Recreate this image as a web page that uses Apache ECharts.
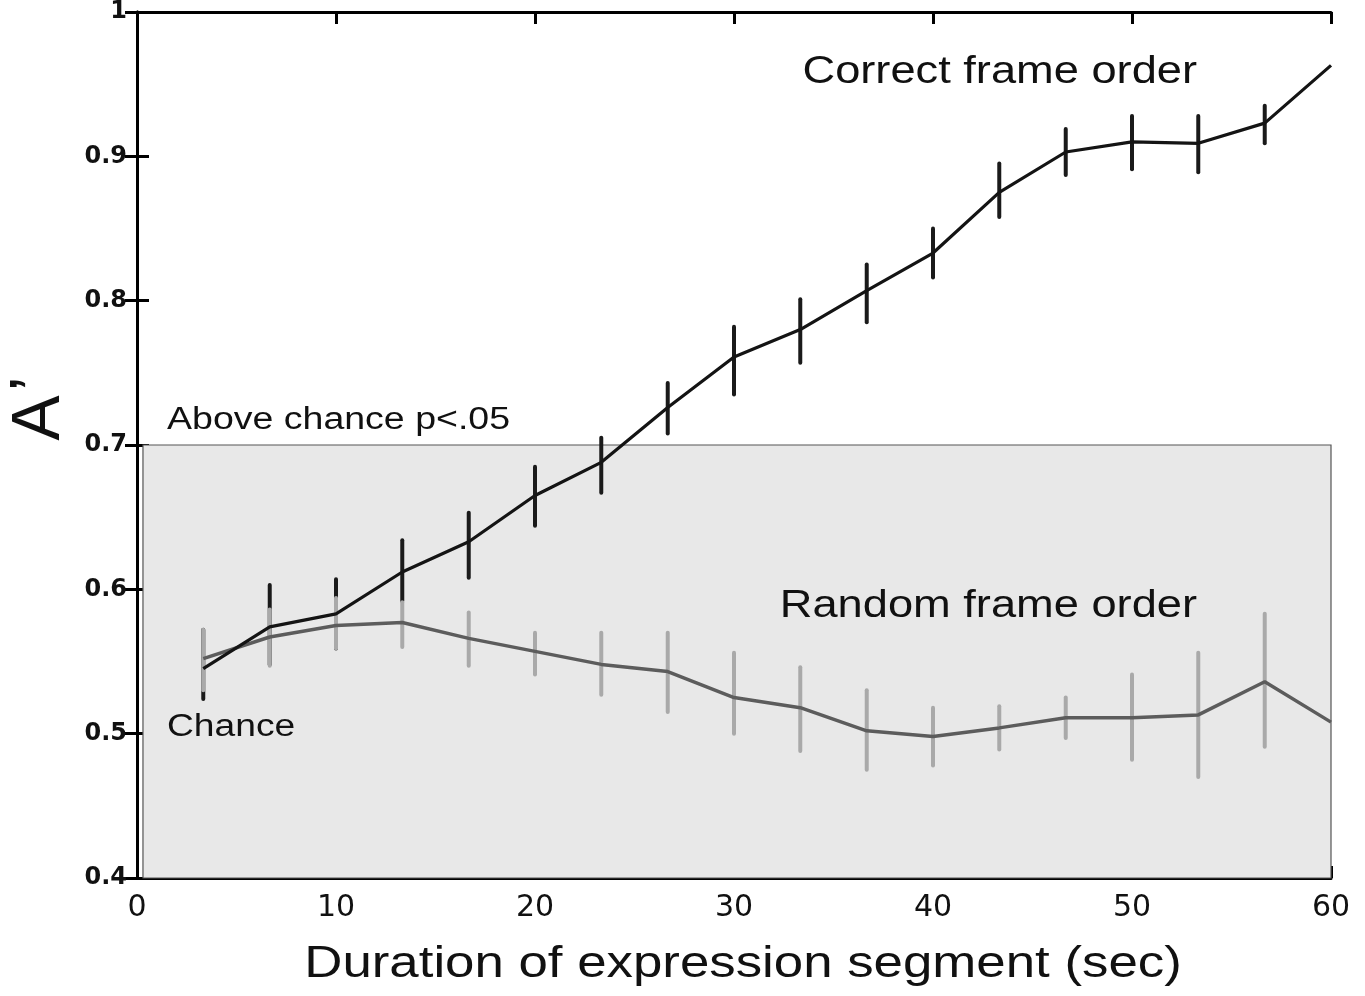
<!DOCTYPE html>
<html>
<head>
<meta charset="utf-8">
<script src="https://cdn.jsdelivr.net/npm/echarts@6/dist/echarts.min.js"></script>
<style>
  html, body { margin: 0; padding: 0; background: #fff; }
  #chart { width: 1365px; height: 996px; }
</style>
</head>
<body>
<div id="chart"></div>
<script>
// segment durations (sec)
const durations = [3.33, 6.67, 10, 13.33, 16.67, 20, 23.33, 26.67, 30, 33.33, 36.67, 40, 43.33, 46.67, 50, 53.33, 56.67, 60]

// correct frame order: mean A' and error bar ends
const correctMean = [0.545, 0.574, 0.583, 0.612, 0.633, 0.665, 0.688, 0.726, 0.761, 0.780, 0.807, 0.833, 0.875, 0.903, 0.910, 0.909, 0.923, 0.963]
const correctLow  = [0.524, 0.548, 0.559, 0.592, 0.608, 0.644, 0.667, 0.708, 0.735, 0.757, 0.785, 0.816, 0.858, 0.887, 0.891, 0.889, 0.909, null]
const correctHigh = [0.572, 0.603, 0.607, 0.634, 0.653, 0.685, 0.705, 0.743, 0.782, 0.801, 0.825, 0.850, 0.895, 0.919, 0.928, 0.928, 0.935, null]

// random frame order
const randomMean = [0.552, 0.567, 0.575, 0.577, 0.566, 0.557, 0.548, 0.543, 0.525, 0.518, 0.502, 0.498, 0.504, 0.511, 0.511, 0.513, 0.536, 0.508]
const randomLow  = [0.530, 0.547, 0.559, 0.560, 0.547, 0.541, 0.527, 0.515, 0.500, 0.488, 0.475, 0.478, 0.489, 0.497, 0.482, 0.470, 0.491, null]
const randomHigh = [0.572, 0.586, 0.594, 0.591, 0.584, 0.570, 0.570, 0.570, 0.556, 0.546, 0.530, 0.518, 0.519, 0.525, 0.541, 0.556, 0.583, null]

// chance band
const chanceBand = [0.4, 0.7]

const xTicks = [0, 10, 20, 30, 40, 50, 60]
const yTicks = [0.4, 0.5, 0.6, 0.7, 0.8, 0.9, 1]

const pairs = (ys) => durations.map((d, i) => [d, ys[i]])
const bars = (lo, hi) => durations
  .map((d, i) => [d, lo[i], hi[i]])
  .filter(r => r[1] != null && r[2] != null)

const errorBar = (color) => (params, api) => {
  const x = api.value(0)
  const p1 = api.coord([x, api.value(1)])
  const p2 = api.coord([x, api.value(2)])
  return {
    type: 'line',
    shape: { x1: p1[0], y1: p1[1], x2: p2[0], y2: p2[1] },
    style: { stroke: color, lineWidth: 4, lineCap: 'round' }
  }
}

const chart = echarts.init(document.getElementById('chart'), null, { renderer: 'canvas' })

const axisLine = { show: true, lineStyle: { color: '#000', width: 3 } }
const axisTick = { show: true, inside: true, length: 12, lineStyle: { color: '#000', width: 3 } }

const textStyle = (size) => ({
  fill: '#111',
  fontFamily: 'Liberation Sans, Arial, sans-serif',
  fontSize: size
})

// annotation text, stretched a little wider like the original figure
const label = (text, x, y, size, sx, align) => ({
  type: 'text', x, y, scaleX: sx, originX: 0, originY: 0, z: 100,
  style: Object.assign(textStyle(size), { text, align, verticalAlign: 'middle' })
})

chart.setOption({
  animation: false,
  backgroundColor: '#fff',
  grid: { left: 137, right: 34, top: 12, bottom: 118, containLabel: false },
  xAxis: [
    {
      type: 'value', min: xTicks[0], max: xTicks[xTicks.length - 1], interval: 10,
      axisLine, axisTick, splitLine: { show: false },
      axisLabel: { color: '#111', fontFamily: 'DejaVu Sans', fontSize: 30, margin: 15 }
    },
    {
      type: 'value', position: 'top', min: xTicks[0], max: xTicks[xTicks.length - 1], interval: 10,
      axisLine, axisTick, splitLine: { show: false }, axisLabel: { show: false }
    }
  ],
  yAxis: [
    {
      type: 'value', min: yTicks[0], max: yTicks[yTicks.length - 1], interval: 0.1,
      axisLine, axisTick, splitLine: { show: false },
      axisLabel: {
        color: '#111', fontFamily: 'DejaVu Sans', fontWeight: 'bold', fontSize: 24, margin: 10,
        formatter: v => Math.abs(v - 1) < 1e-9 ? '1' : v.toFixed(1)
      }
    },
    {
      type: 'value', position: 'right', min: yTicks[0], max: yTicks[yTicks.length - 1], interval: 0.1,
      axisLine, axisTick, splitLine: { show: false }, axisLabel: { show: false }
    }
  ],
  series: [
    {
      name: 'correct-err',
      type: 'custom',
      renderItem: errorBar('#1a1a1a'),
      encode: { x: 0, y: [1, 2] },
      data: bars(correctLow, correctHigh),
      z: 3,
      markArea: {
        silent: true,
        itemStyle: { color: '#e8e8e8', borderColor: '#555', borderWidth: 1.2 },
        data: [[{ xAxis: 0.3, yAxis: chanceBand[0] }, { xAxis: 60, yAxis: chanceBand[1] }]]
      }
    },
    {
      name: 'random-err',
      type: 'custom',
      renderItem: errorBar('#a9a9a9'),
      encode: { x: 0, y: [1, 2] },
      data: bars(randomLow, randomHigh),
      z: 4
    },
    {
      name: 'Random frame order',
      type: 'line',
      data: pairs(randomMean),
      showSymbol: false,
      lineStyle: { color: '#5c5c5c', width: 3.5 },
      z: 5
    },
    {
      name: 'Correct frame order',
      type: 'line',
      data: pairs(correctMean),
      showSymbol: false,
      lineStyle: { color: '#141414', width: 3.2 },
      z: 6
    }
  ],
  graphic: [
    label('Correct frame order', 1197, 73, 38, 1.19, 'right'),
    label('Random frame order', 1197, 607, 38, 1.19, 'right'),
    label('Above chance p<.05', 167, 420, 31, 1.21, 'left'),
    label('Chance', 167, 727, 31, 1.2, 'left'),
    label('Duration of expression segment (sec)', 743, 965, 44, 1.2, 'center'),
    {
      // y axis title A' (rotated)
      type: 'text', x: 40, y: 418, rotation: Math.PI / 2, z: 100,
      style: Object.assign(textStyle(68), { text: 'A', align: 'center', verticalAlign: 'middle' })
    },
    {
      type: 'text', x: 38, y: 384, rotation: Math.PI / 2, z: 100,
      style: Object.assign(textStyle(68), { text: '\u2019', align: 'center', verticalAlign: 'middle' })
    }
  ]
})
</script>
</body>
</html>
